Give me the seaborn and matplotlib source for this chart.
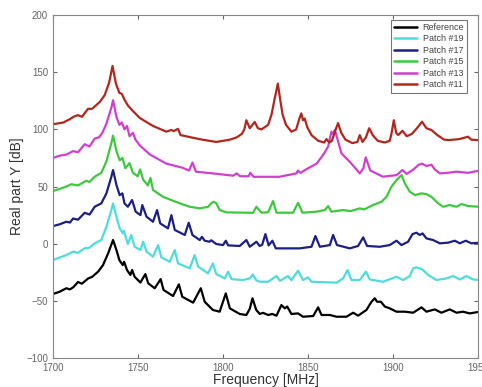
"""
Real part of admittance Y vs frequency for the reference plate and
several patched plates (curves offset by 30 dB for readability).
"""

import pandas as pd
import matplotlib
matplotlib.use("Agg")
import matplotlib.pyplot as plt
import seaborn as sns

# --- values --------------------------------------------------------------
ref_freq = [1700, 1704, 1707.8, 1710, 1712, 1714.7, 1717, 1720.6, 1723, 1726.5, 1729.4,
            1732.4, 1735.3, 1737.3, 1739, 1741, 1741.8, 1743.5, 1745.5, 1746.5, 1748,
            1751.4, 1754.3, 1756, 1759.8, 1763.3, 1765, 1770.6, 1774, 1776, 1782.4,
            1786.9, 1789.2, 1794, 1798, 1801.6, 1804, 1809.8, 1813.7, 1815.7, 1817.3,
            1819.5, 1821.6, 1823.5, 1826.5, 1829, 1831.4, 1834.3, 1836.3, 1837.7,
            1840.2, 1844.1, 1847, 1853, 1855.9, 1857.9, 1862.8, 1866.7, 1872.6,
            1876.5, 1879.4, 1884.3, 1887.3, 1889.2, 1890.6, 1892.8, 1895.1, 1898,
            1902, 1906.9, 1911.8, 1916.7, 1919.6, 1924.5, 1928.4, 1933.3, 1937.3,
            1941, 1945.1, 1951]
ref_db = [-44, -42, -39, -40, -38, -33.5, -35, -30.5, -29, -24.5, -18.7,
          -8.5, 3.2, -5.6, -14.3, -18.7, -15.8, -23, -27.4, -23, -29,
          -34, -26.6, -34.7, -39, -31, -40.5, -45.8, -35.6, -46.4, -51.6,
          -39, -50.8, -58, -59.5, -43.5, -56.6, -61.5, -62.4, -57, -47.8,
          -58, -61.5, -60.5, -62.4, -61.5, -63, -53.7, -56.6, -55,
          -61.5, -61, -63.9, -63.3, -55.7, -62.4, -62.4, -63.9, -63.9,
          -60.4, -63, -58, -50.8, -47.8, -50.8, -50.8, -55, -56.6,
          -59.5, -59.5, -60.4, -55.7, -59.5, -57.5, -60.4, -57.5, -60.4,
          -59.5, -61, -59.5]

p19_freq = [1700, 1704, 1707.8, 1711.8, 1714.7, 1718.6, 1721.5, 1724.5, 1728.4, 1731.4,
            1734.3, 1735.3, 1737.3, 1739.2, 1741, 1741.6, 1744, 1746, 1748, 1751.4,
            1753, 1755, 1758.8, 1761.8, 1763.7, 1768.6, 1771.6, 1773.5, 1780.4,
            1783.3, 1785.3, 1791.2, 1794, 1796, 1801, 1803, 1805, 1811.8, 1815.7,
            1817.5, 1819.5, 1821.6, 1826.5, 1831.4, 1833.5, 1838.2, 1840.2, 1844.1,
            1847, 1850, 1852, 1866.7, 1870.6, 1873.2, 1875.5, 1880.4, 1884, 1886.3,
            1894.1, 1902, 1905.9, 1909.8, 1911.8, 1913.7, 1915.7, 1917.6, 1920.6,
            1925.5, 1931.4, 1935.3, 1939.2, 1943.2, 1947, 1951]
p19_db = [-14.3, -12, -10, -7, -8, -4, -3.5, 0.3, 3.2, 14.8,
          29.4, 35.2, 23.6, 13.4, 9, 11.5, -0.3, 7.6, -2.7, -5.6,
          1.7, -7, -11.4, -1.2, -12, -15.8, -5.6, -17.2, -21.6,
          -10, -20, -26, -17.2, -26.6, -30.4, -24.5, -31, -31.8, -30.4,
          -27, -32, -33.3, -33.3, -28.3, -32.5, -28.3, -32, -23.6,
          -31.8, -29.5, -33.3, -34.1, -30.4, -23, -31.8, -31.8, -24.5, -31.3,
          -33.3, -28.9, -31.8, -28.3, -21.6, -20.7, -21.6, -23, -27.4,
          -31.8, -30.4, -28.3, -31.3, -28.3, -31.3, -31.8]

p17_freq = [1700, 1704, 1707.8, 1710, 1711.8, 1714.7, 1718.6, 1721.5, 1724.5, 1728.4,
            1731.4, 1734.3, 1735.3, 1737.3, 1739.2, 1740.8, 1742, 1744, 1746.5,
            1748.6, 1751.4, 1752.5, 1755, 1758.8, 1761.2, 1763, 1767.6, 1769.6,
            1771.6, 1777.5, 1779.8, 1782, 1786.3, 1787.6, 1789.2, 1792, 1793, 1796,
            1800, 1801.6, 1803, 1809.8, 1813.7, 1815.7, 1819.6, 1821.5, 1823,
            1824.9, 1826.8, 1829, 1831, 1845, 1852, 1854.3, 1856.9, 1862.8, 1864.7,
            1867, 1874.5, 1879.4, 1882.4, 1884.7, 1892.2, 1898, 1902, 1904.9,
            1908.8, 1911.4, 1913.7, 1915.7, 1917.3, 1919.6, 1923.5, 1927.5, 1932.4,
            1936.3, 1939.2, 1942.7, 1946, 1951]
p17_db = [15.4, 17, 19.2, 18.5, 22, 21, 27, 25.5, 32.3, 35.3,
          44, 58.6, 64.4, 51.3, 42.5, 44, 35.3, 32.3, 38.2,
          28, 25, 33.8, 23.6, 19.2, 29.4, 17.8, 13.4, 25,
          12, 7.6, 18.3, 7.6, 3.2, 6, 2.6, 1.7, 3, -0.3,
          -1.2, 2.6, -1.5, -2, 3.2, -2.7, 1.7, -2, -1,
          8.4, -1.5, 2.6, -4.1, -4.1, -2.7, 6.7, -2.7, -1.2, 7.6,
          -1.2, -4.1, -2, 5.5, -2, -2.7, -1.2, 2.6, -1.2,
          1.7, 8.4, 9.6, 7.6, 9, 4.6, 3.2, 0.3, 0.9,
          2.6, 0.3, 2.6, 0.3, 0.9]

p15_freq = [1700, 1704, 1707.8, 1710.8, 1714.7, 1719.6, 1721.5, 1724.5, 1728.4, 1731.4,
            1734.3, 1735.3, 1737.3, 1739.2, 1740.8, 1742.5, 1745, 1747, 1749.8,
            1751.2, 1753, 1755.8, 1757.3, 1758.8, 1764.7, 1774.5, 1780.4, 1786.3,
            1791.2, 1793, 1794.5, 1796, 1798, 1802, 1817.6, 1819.6, 1822.6, 1826.5,
            1829.4, 1831.4, 1841.2, 1844.1, 1846.7, 1855, 1859.8, 1861.8, 1863.7,
            1870.6, 1875, 1880.4, 1883, 1888.2, 1893.2, 1896.1, 1899, 1902, 1904,
            1905, 1906.9, 1909.8, 1912.8, 1916.7, 1919.6, 1922.5, 1926.5, 1929.4,
            1933.3, 1937.3, 1940.2, 1944.1, 1951]
p15_db = [46, 48, 50, 52, 51, 55, 54, 58.6, 62, 72,
          88, 94.5, 81, 73, 75, 66, 70.5, 62, 59,
          65, 56, 51, 57.5, 47, 41, 35.3, 32.3, 30.9,
          32.3, 35.3, 36.7, 35.3, 29.4, 27.4, 27, 32.3, 27.1, 27.5,
          37.3, 27.1, 27.1, 35.8, 27.1, 28, 29.4, 32.9, 28,
          29.4, 28.5, 30.9, 30, 33.8, 36.7, 41, 49.8, 55.7, 58.6,
          60, 52.7, 45.5, 42.5, 44, 43.4, 41, 35.3, 32.3,
          33.8, 32.3, 34.7, 32.9, 32.3]

p13_freq = [1700, 1704, 1708, 1711.8, 1714.7, 1718.6, 1721.5, 1724.5, 1727, 1729,
            1731.4, 1734.3, 1735.3, 1737.3, 1739, 1740.5, 1742, 1743.5, 1745, 1747,
            1748.5, 1751, 1757, 1766.7, 1776, 1780, 1782, 1784, 1794, 1806, 1808,
            1810, 1815, 1816, 1818, 1833, 1843.2, 1844, 1845.5, 1850, 1855, 1859,
            1861.8, 1863.7, 1864.7, 1865.7, 1867, 1869.6, 1874.5, 1880.4, 1882.5,
            1883.9, 1886.6, 1894, 1902, 1905.5, 1908, 1912, 1915, 1917, 1919.6,
            1922.6, 1924.5, 1927.5, 1932, 1937.3, 1944, 1951]
p13_db = [75, 77, 78, 81, 80, 87, 85, 92, 93, 97,
          105, 119, 125.5, 111, 104, 106, 100, 103, 94, 97,
          91, 86, 78, 70, 66.5, 64, 71, 63, 61.5, 59.5, 61.5,
          59, 59, 62, 58.5, 58.5, 61.5, 64, 62, 66, 70, 78,
          85, 98, 96, 99.5, 93, 79, 71.7, 61.5, 66,
          75.5, 64, 58.6, 60, 64.4, 61, 65, 69, 70, 68,
          69, 65, 61.5, 62, 63, 62, 64]

p11_freq = [1700, 1706, 1710, 1712, 1714.7, 1717, 1720.6, 1723, 1727.5, 1730.4, 1733,
            1735, 1737, 1739, 1740.5, 1742, 1744, 1747, 1751, 1758.8, 1766.7, 1769.6,
            1771, 1773.5, 1775, 1786, 1796, 1804, 1808, 1811, 1812.5, 1813.7,
            1815.7, 1818.6, 1820.5, 1822.6, 1826.5, 1828.5, 1830.5, 1832.2, 1833.5,
            1835, 1837, 1840.2, 1843, 1845, 1846, 1847, 1848, 1849.5, 1852, 1856,
            1859.5, 1860.8, 1862.5, 1864, 1866, 1867.6, 1869.5, 1872, 1876, 1879,
            1880.4, 1882, 1884, 1885.9, 1888, 1891, 1895, 1898, 1899, 1900.4,
            1901.8, 1903, 1905.5, 1908, 1911, 1914, 1917, 1919.6, 1922.6, 1926,
            1930, 1933.3, 1939, 1944, 1946, 1951]
p11_db = [104.5, 106, 109, 111, 112.5, 111, 118, 118, 124, 130, 141,
          155.5, 140, 132, 131, 126, 121, 116, 110, 103, 98, 99.5,
          98.5, 100.5, 95, 91.5, 89, 91, 93, 96, 100, 108,
          101, 106.5, 101, 100, 104, 113, 128, 140, 127,
          113, 104, 98, 100, 110, 114, 108, 109.5, 102, 95, 90,
          88.5, 91.5, 88.5, 90, 99, 105.5, 97, 91, 88, 89,
          95, 89, 93, 101, 95, 90, 88.5, 90, 96, 108,
          97, 95, 98.8, 94, 96, 101, 106.7, 101, 99.4, 95,
          91, 90.7, 91.5, 93.6, 91, 90.5]

series_names = ["Reference", "Patch #19", "Patch #17", "Patch #15", "Patch #13", "Patch #11"]
series_freq = [ref_freq, p19_freq, p17_freq, p15_freq, p13_freq, p11_freq]
series_db = [ref_db, p19_db, p17_db, p15_db, p13_db, p11_db]
series_colors = ["#000000", "#4fdcdc", "#1c1f85", "#3ec83e", "#d13fd1", "#b3261e"]

x_ticks = [1700, 1750, 1800, 1850, 1900, 1950]
y_ticks = [-100, -50, 0, 50, 100, 150, 200]


def build_frame():
    frames = []
    for name, f, d in zip(series_names, series_freq, series_db):
        frames.append(pd.DataFrame({"freq": f, "db": d, "curve": name}))
    return pd.concat(frames, ignore_index=True)


def main():
    df = build_frame()

    sns.set_style("white")
    plt.rcParams["font.family"] = ["Liberation Sans", "DejaVu Sans"]

    fig = plt.figure(figsize=(4.82, 3.87), dpi=100)
    ax = fig.add_axes([0.110, 0.075, 0.882, 0.886])

    sns.lineplot(
        data=df, x="freq", y="db", hue="curve", hue_order=series_names,
        palette=dict(zip(series_names, series_colors)),
        estimator=None, sort=False, linewidth=1.6, ax=ax,
    )

    ax.set_xlim(1700, 1950)
    ax.set_ylim(-100, 200)
    ax.set_xticks(x_ticks)
    ax.set_yticks(y_ticks)
    ax.tick_params(direction="in", length=3, labelsize=7, colors="#666666",
                   top=True, right=True, bottom=True, left=True)
    for s in ax.spines.values():
        s.set_color("#888888")
        s.set_linewidth(0.8)

    ax.set_xlabel("Frequency [MHz]", fontsize=10, color="#333333", labelpad=0)
    ax.set_ylabel("Real part Y [dB]", fontsize=10, color="#333333", labelpad=2)

    leg = ax.legend(loc="upper right", fontsize=6.5, frameon=True, fancybox=False,
                    borderaxespad=0.5, handlelength=2.6, labelspacing=0.28,
                    borderpad=0.35, handletextpad=0.6,
                    bbox_to_anchor=(0.985, 1.0))
    leg.get_frame().set_edgecolor("#555555")
    leg.get_frame().set_linewidth(0.8)
    for line in leg.get_lines():
        line.set_linewidth(1.8)
    for t in leg.get_texts():
        t.set_color("#444444")

    fig.savefig("out.png", dpi=100)


if __name__ == "__main__":
    main()
